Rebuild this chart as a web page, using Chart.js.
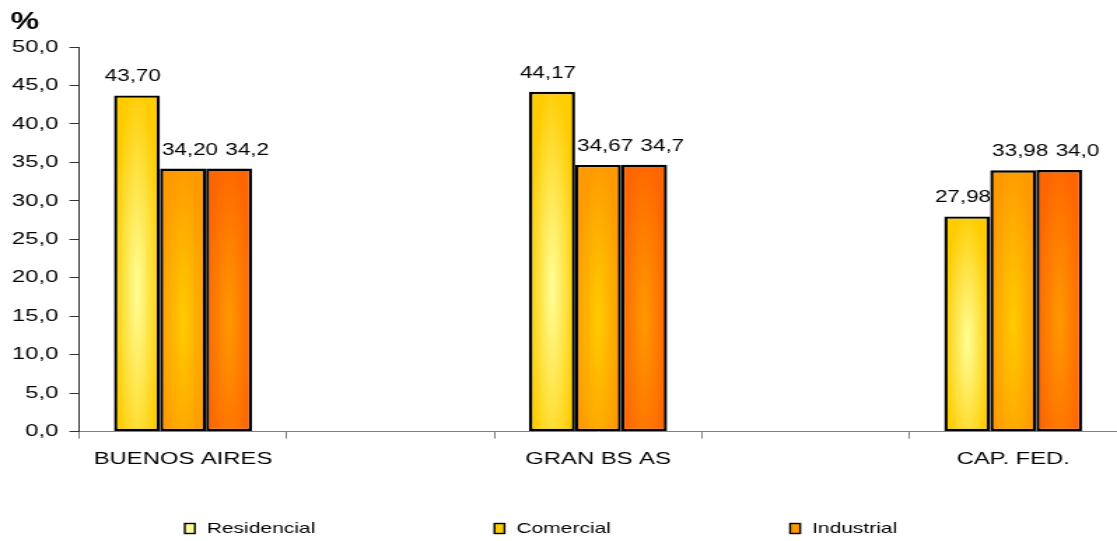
<!DOCTYPE html>
<html>
<head>
<meta charset="utf-8">
<script src="https://cdn.jsdelivr.net/npm/chart.js@4/dist/chart.umd.min.js"></script>
<style>
  html, body { margin: 0; padding: 0; background: #fff; overflow: hidden; }
  #wrap { width: 1117px; height: 541px; }
  /* the original chart is stretched sideways, so draw narrow and scale up */
  #chart { transform-origin: 0 0; transform: scaleX(1.39975); }
</style>
</head>
<body>
<div id="wrap"><canvas id="chart" width="798" height="541"></canvas></div>
<script>
// Data
const categories = ['BUENOS AIRES', '', 'GRAN BS AS', '', 'CAP. FED.'];
const residencial = [43.70, null, 44.17, null, 27.98];
const comercial   = [34.20, null, 34.67, null, 33.98];
const industrial  = [34.2,  null, 34.7,  null, 34.0];
const yTicks = [0, 5, 10, 15, 20, 25, 30, 35, 40, 45, 50];
const unitLabel = '%';

Chart.defaults.font.family = '"Liberation Sans", Arial, sans-serif';
Chart.defaults.color = '#000';

// Bar fill: light centre fading to a darker edge
function barFill(inner, outer) {
  return (c) => {
    const el = c.element;
    if (!el || !isFinite(el.x) || !isFinite(el.y) || !isFinite(el.base) || !isFinite(el.width)) return outer;
    const w = Math.max(1, Math.round(el.width));
    const h = Math.max(1, Math.round(Math.abs(el.base - el.y)));
    const off = document.createElement('canvas');
    off.width = w; off.height = h;
    const g = off.getContext('2d');
    g.fillStyle = outer;
    g.fillRect(0, 0, w, h);
    g.save();
    g.translate(w / 2, h * 0.58);
    g.scale(w / 2, h * 0.62);
    const rg = g.createRadialGradient(0, 0, 0, 0, 0, 1);
    rg.addColorStop(0, inner);
    rg.addColorStop(1, outer);
    g.fillStyle = rg;
    g.fillRect(-1.2, -1.2, 2.4, 2.4);
    g.restore();
    const p = c.chart.ctx.createPattern(off, 'no-repeat');
    p.setTransform(new DOMMatrix().translate(el.x - el.width / 2, Math.min(el.y, el.base)));
    return p;
  };
}

const fmt = (v, d) => v.toFixed(d).replace('.', ',');

// Value labels over the bars
const valueLabels = {
  id: 'valueLabels',
  afterDatasetsDraw(chart) {
    const ctx = chart.ctx;
    ctx.save();
    ctx.font = '16px "Liberation Sans", Arial, sans-serif';
    ctx.fillStyle = '#000';
    ctx.textAlign = 'center';
    ctx.textBaseline = 'alphabetic';
    chart.data.datasets.forEach((ds, i) => {
      const meta = chart.getDatasetMeta(i);
      meta.data.forEach((el, j) => {
        const v = ds.data[j];
        if (v == null) return;
        ctx.fillText(fmt(v, ds.decimals), el.x + ds.labelShift, el.y - 14);
      });
    });
    ctx.restore();
  }
};

// "%" unit caption in the top-left corner
const unitCaption = {
  id: 'unitCaption',
  afterDraw(chart) {
    const ctx = chart.ctx;
    ctx.save();
    ctx.font = 'bold 23px "Liberation Sans", Arial, sans-serif';
    ctx.fillStyle = '#000';
    ctx.textAlign = 'left';
    ctx.textBaseline = 'middle';
    ctx.fillText(unitLabel, 7.5, 22.5);
    ctx.restore();
  }
};

// Legend drawn along the bottom with wide gaps
const bottomLegend = {
  id: 'bottomLegend',
  afterDraw(chart) {
    const ctx = chart.ctx;
    ctx.save();
    ctx.font = '15px "Liberation Sans", Arial, sans-serif';
    ctx.textBaseline = 'middle';
    ctx.textAlign = 'left';
    let x = 132;
    const y = 528.5;
    chart.data.datasets.forEach(ds => {
      ctx.fillStyle = ds.legendColor;
      ctx.fillRect(x, y - 5, 7.2, 10);
      ctx.strokeStyle = '#000';
      ctx.lineWidth = 1.4;
      ctx.strokeRect(x, y - 5, 7.2, 10);
      ctx.fillStyle = '#000';
      ctx.fillText(ds.label, x + 15.7, y);
      x += 15.7 + ctx.measureText(ds.label).width + 128;
    });
    ctx.restore();
  }
};

const chart = new Chart(document.getElementById('chart'), {
  type: 'bar',
  data: {
    labels: categories,
    datasets: [
      { label: 'Residencial', data: residencial, decimals: 2, labelShift: -3, legendColor: '#ffff99',
        backgroundColor: barFill('#ffff99', '#ffcc00') },
      { label: 'Comercial', data: comercial, decimals: 2, labelShift: 5, legendColor: '#ffcc00',
        backgroundColor: barFill('#ffcc00', '#ff9900') },
      { label: 'Industrial', data: industrial, decimals: 1, labelShift: 13, legendColor: '#ff9900',
        backgroundColor: barFill('#ff9900', '#ff6600') }
    ]
  },
  options: {
    responsive: false,
    devicePixelRatio: 1,
    animation: false,
    events: [],
    layout: { padding: { left: 0.5, right: 0, top: 47, bottom: 60 } },
    datasets: {
      bar: {
        borderColor: '#000',
        borderWidth: 2.4,
        borderSkipped: false,
        barPercentage: 1,
        categoryPercentage: 0.665
      }
    },
    plugins: {
      legend: { display: false },
      tooltip: { enabled: false },
      title: { display: false }
    },
    scales: {
      x: {
        grid: { display: true, drawOnChartArea: false, drawTicks: true, tickLength: 7, color: '#808080', offset: true },
        border: { display: true, color: '#808080', width: 1 },
        ticks: { autoSkip: false, maxRotation: 0, padding: 11, font: { size: 17 }, color: '#000' }
      },
      y: {
        min: 0,
        max: 50,
        afterBuildTicks: (s) => { s.ticks = yTicks.map(v => ({ value: v })); },
        grid: { display: true, drawOnChartArea: false, drawTicks: true, tickLength: 7, color: '#333' },
        border: { display: true, color: '#333', width: 1 },
        ticks: { padding: 8, font: { size: 17 }, color: '#000', callback: (v) => fmt(v, 1) }
      }
    }
  },
  plugins: [valueLabels, unitCaption, bottomLegend]
});

// second pass so the fills can use the final bar geometry
chart.update();
</script>
</body>
</html>
